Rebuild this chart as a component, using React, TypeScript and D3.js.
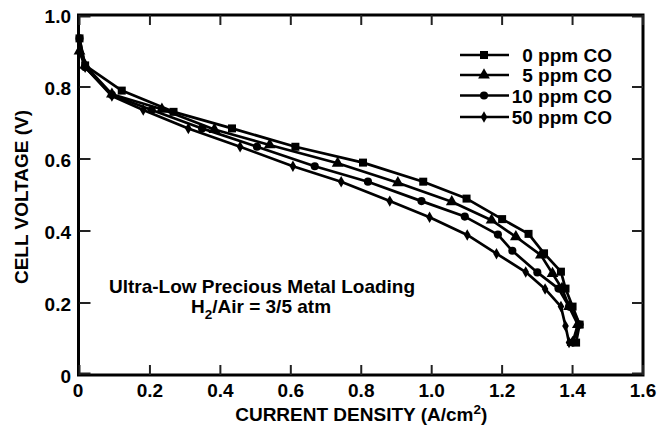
import React from "react";
import * as d3 from "d3";

const seriesNames = ["0 ppm CO", "5 ppm CO", "10 ppm CO", "50 ppm CO"];
const symbolsUsed = ["square", "triangle", "circle", "diamond"];

const ppm0X = [0, 0.016, 0.12, 0.267, 0.433, 0.613, 0.805, 0.976, 1.099, 1.2, 1.275, 1.319, 1.367, 1.38, 1.4, 1.42, 1.41];
const ppm0Y = [0.935, 0.86, 0.79, 0.731, 0.685, 0.634, 0.59, 0.537, 0.49, 0.433, 0.392, 0.338, 0.287, 0.24, 0.19, 0.14, 0.09];

const ppm5X = [0, 0.016, 0.092, 0.234, 0.383, 0.54, 0.733, 0.904, 1.057, 1.17, 1.239, 1.31, 1.343, 1.37, 1.39, 1.415, 1.4];
const ppm5Y = [0.9, 0.86, 0.78, 0.738, 0.682, 0.639, 0.588, 0.534, 0.481, 0.43, 0.384, 0.333, 0.282, 0.24, 0.19, 0.14, 0.09];

const ppm10X = [0, 0.016, 0.092, 0.205, 0.348, 0.504, 0.668, 0.819, 0.971, 1.094, 1.188, 1.229, 1.3, 1.36, 1.39, 1.42, 1.4];
const ppm10Y = [0.935, 0.855, 0.778, 0.736, 0.685, 0.634, 0.58, 0.537, 0.483, 0.44, 0.39, 0.345, 0.285, 0.24, 0.19, 0.14, 0.09];

const ppm50X = [0, 0.016, 0.092, 0.181, 0.309, 0.456, 0.606, 0.743, 0.881, 0.994, 1.101, 1.184, 1.267, 1.322, 1.367, 1.38, 1.39];
const ppm50Y = [0.9, 0.855, 0.775, 0.736, 0.685, 0.634, 0.58, 0.537, 0.483, 0.438, 0.389, 0.337, 0.286, 0.239, 0.19, 0.136, 0.09];

const xTicks = [0, 0.2, 0.4, 0.6, 0.8, 1.0, 1.2, 1.4, 1.6];
const xTickLabels = ["0", "0.2", "0.4", "0.6", "0.8", "1.0", "1.2", "1.4", "1.6"];
const yTicks = [0, 0.2, 0.4, 0.6, 0.8, 1.0];
const yTickLabels = ["0", "0.2", "0.4", "0.6", "0.8", "1.0"];

const FONT = "'Liberation Sans', Arial, Helvetica, sans-serif";

export default function App() {
  const W = 672, H = 431;
  const left = 79.5, right = 643, top = 15, bottom = 375;
  const x = d3.scaleLinear().domain([0, 1.6]).range([left, right]);
  const y = d3.scaleLinear().domain([0, 1.0]).range([bottom, top]);

  const allX = [ppm0X, ppm5X, ppm10X, ppm50X];
  const allY = [ppm0Y, ppm5Y, ppm10Y, ppm50Y];
  const series = allX.map((xs, i) => xs.map((v, j) => [v, allY[i][j]] as [number, number]));

  const line = d3.line<[number, number]>().x(d => x(d[0])).y(d => y(d[1]));

  const symMap: Record<string, any> = {
    square: d3.symbolSquare,
    triangle: d3.symbolTriangle,
    circle: d3.symbolCircle,
    diamond: d3.symbolDiamond,
  };
  const symSize: Record<string, number> = { square: 64, triangle: 60, circle: 52, diamond: 38 };
  const symPath = (k: string) => d3.symbol().type(symMap[k]).size(symSize[k])() as string;

  const legendY = [55, 75, 95.5, 117];
  const FS = 19;

  return (
    <svg width={W} height={H} style={{ position: "absolute", left: 0, top: 0, background: "#fff" }} fontFamily={FONT} fontWeight="bold">
      <rect x={0} y={0} width={W} height={H} fill="#fff" />
      {/* frame */}
      <rect x={left - 1} y={top} width={right - left + 1} height={bottom - top} fill="none" stroke="#000" strokeWidth={3} />
      {/* ticks */}
      {xTicks.map((t, i) => (
        <g key={"xt" + i} stroke="#222" strokeWidth={2}>
          <line x1={x(t)} x2={x(t)} y1={bottom} y2={bottom - 10} />
          <line x1={x(t)} x2={x(t)} y1={top} y2={top + 10} />
        </g>
      ))}
      {yTicks.map((t, i) => (
        <g key={"yt" + i} stroke="#222" strokeWidth={2}>
          <line x1={left} x2={left + 11} y1={y(t) + (i === 0 ? -1.5 : i === yTicks.length - 1 ? 1.5 : 0)} y2={y(t) + (i === 0 ? -1.5 : i === yTicks.length - 1 ? 1.5 : 0)} />
          <line x1={right} x2={right - 11} y1={y(t) + (i === 0 ? -1.5 : i === yTicks.length - 1 ? 1.5 : 0)} y2={y(t) + (i === 0 ? -1.5 : i === yTicks.length - 1 ? 1.5 : 0)} />
        </g>
      ))}
      {/* tick labels */}
      {xTicks.map((t, i) => (
        <text key={"xl" + i} x={i === 0 ? x(t) - 1.5 : x(t)} y={397} textAnchor="middle" fontSize={FS} fill="#000">
          {xTickLabels[i]}
        </text>
      ))}
      {yTicks.map((t, i) => (
        <text key={"yl" + i} x={71} y={y(t) + 7.5} textAnchor="end" fontSize={FS} fill="#000">
          {yTickLabels[i]}
        </text>
      ))}
      {/* axis titles */}
      <text x={(left + right) / 2} y={421} textAnchor="middle" fontSize={FS} fill="#000">
        CURRENT DENSITY (A/cm<tspan dy={-7} fontSize={13.5}>2</tspan><tspan dy={7}>)</tspan>
      </text>
      <text transform={`translate(28,${(top + bottom) / 2 + 2}) rotate(-90)`} textAnchor="middle" fontSize={FS} fill="#000">
        CELL VOLTAGE (V)
      </text>
      {/* curves */}
      {series.map((s, i) => (
        <path key={"l" + i} d={line(s) as string} fill="none" stroke="#000" strokeWidth={2.7} strokeLinejoin="round" />
      ))}
      {series.map((s, i) => (
        <g key={"m" + i}>
          {s.map((d, j) => (
            <path key={j} d={symPath(symbolsUsed[i])} transform={`translate(${x(d[0])},${y(d[1])})`} fill="#000" />
          ))}
        </g>
      ))}
      {/* legend */}
      {seriesNames.map((n, i) => (
        <g key={"lg" + i}>
          <line x1={460} x2={509} y1={legendY[i]} y2={legendY[i]} stroke="#000" strokeWidth={2.7} />
          <path d={symPath(symbolsUsed[i])} transform={`translate(484,${legendY[i]})`} fill="#000" />
          <text x={612} y={legendY[i] + 7} textAnchor="end" fontSize={FS} fill="#000">{n}</text>
        </g>
      ))}
      {/* annotation */}
      <text x={262} y={293} textAnchor="middle" fontSize={FS} fill="#000">Ultra-Low Precious Metal Loading</text>
      <text x={261} y={313} textAnchor="middle" fontSize={FS} fill="#000">
        H<tspan dy={6} fontSize={13.5}>2</tspan><tspan dy={-6}>/Air = 3/5 atm</tspan>
      </text>
    </svg>
  );
}
